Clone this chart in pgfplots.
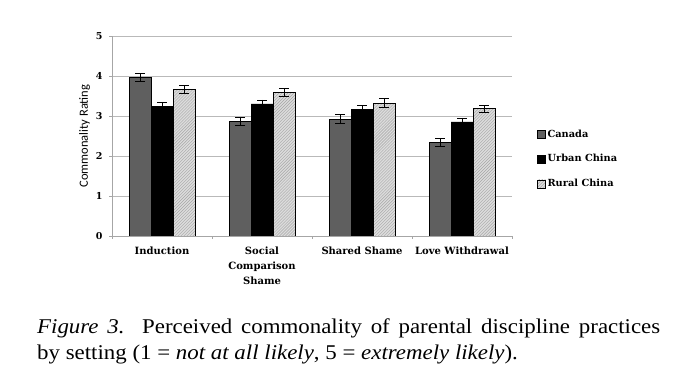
\documentclass[border=0pt]{standalone}
\usepackage{fontspec}
\setmainfont{Liberation Serif}[FakeStretch=1.09]
\newfontfamily\tickfont{DejaVu Serif}
\newfontfamily\labfont{Carlito}
\usepackage{pgfplots}
\pgfplotsset{compat=1.18}
\usetikzlibrary{patterns}
\definecolor{canada}{HTML}{5F5F5F}
\definecolor{rural}{HTML}{DCDCDC}
\begin{document}
\begin{tikzpicture}
\path[use as bounding box] (0,0) rectangle (688bp,387bp);
\begin{axis}[
  at={(112bp,151bp)}, anchor=south west,
  scale only axis, width=400bp, height=200bp,
  /pgf/number format/assume math mode=true,
  ymin=0, ymax=5, ytick={0,1,2,3,4,5},
  xmin=-0.5, xmax=3.5,
  xtick={-0.5,0.5,1.5,2.5,3.5}, xticklabels={},
  extra x ticks={0,1,2,3},
  extra x tick labels={Induction,{Social\\Comparison\\Shame},Shared Shame,Love Withdrawal},
  extra x tick style={major tick length=0pt, grid=none,
     xticklabel style={align=center, font=\tickfont\bfseries\fontsize{10bp}{15bp}\selectfont, yshift=-7bp}},
  axis x line*=bottom, axis y line*=left,
  axis line style={gray!70, line width=0.7pt},
  x axis line style={-}, y axis line style={-},
  major tick length=3bp,
  tick style={gray!70, line width=0.7pt},
  xtick pos=bottom, ytick pos=left,
  tick align=outside,
  ymajorgrids, grid style={gray!55, line width=0.7pt},
  yticklabel style={font=\tickfont\bfseries\fontsize{9.5bp}{10bp}\selectfont, xshift=-3bp},
  ylabel={Commonality Rating},
  ylabel style={font=\labfont\fontsize{12.5bp}{14bp}\selectfont, yshift=-1bp},
  ybar=0pt, bar width=22bp,
  legend style={at={(1.062,0.385)}, anchor=west, draw=none, fill=none,
    font=\tickfont\bfseries\fontsize{9.8bp}{12bp}\selectfont, row sep=12bp,
    legend cell align=left, inner sep=0pt},
  legend image code/.code={\draw[#1, line width=0.6pt] (0bp,-4bp) rectangle (8bp,4bp);},
  error bars/y dir=both, error bars/y explicit,
  error bars/error bar style={black, line width=0.8pt},
  error bars/error mark options={rotate=90, mark size=5bp, line width=0.8pt, black},
]
\addplot[draw=black, fill=canada, line width=0.8pt] coordinates {
  (0,3.96) +- (0,0.10)
  (1,2.87) +- (0,0.10)
  (2,2.92) +- (0,0.11)
  (3,2.34) +- (0,0.09)
};
\addplot[draw=black, fill=black, line width=0.8pt] coordinates {
  (0,3.24) +- (0,0.10)
  (1,3.30) +- (0,0.10)
  (2,3.17) +- (0,0.10)
  (3,2.85) +- (0,0.10)
};
\addplot[draw=black, fill=rural, line width=0.8pt,
   postaction={pattern=north east lines, pattern color=gray!70}] coordinates {
  (0,3.66) +- (0,0.10)
  (1,3.59) +- (0,0.11)
  (2,3.32) +- (0,0.11)
  (3,3.18) +- (0,0.09)
};
\legend{Canada,Urban China,Rural China}
\end{axis}
\node[anchor=base west, inner sep=0pt, font=\fontsize{21bp}{24bp}\selectfont] at (37bp,53bp)
  {\makebox[623bp][s]{\textit{Figure 3.}\ \ Perceived commonality of parental discipline practices}};
\node[anchor=base west, inner sep=0pt, font=\fontsize{21bp}{24bp}\selectfont] at (37bp,28bp)
  {by setting (1 = \textit{not at all likely}, 5 = \textit{extremely likely}).};
\end{tikzpicture}
\end{document}
